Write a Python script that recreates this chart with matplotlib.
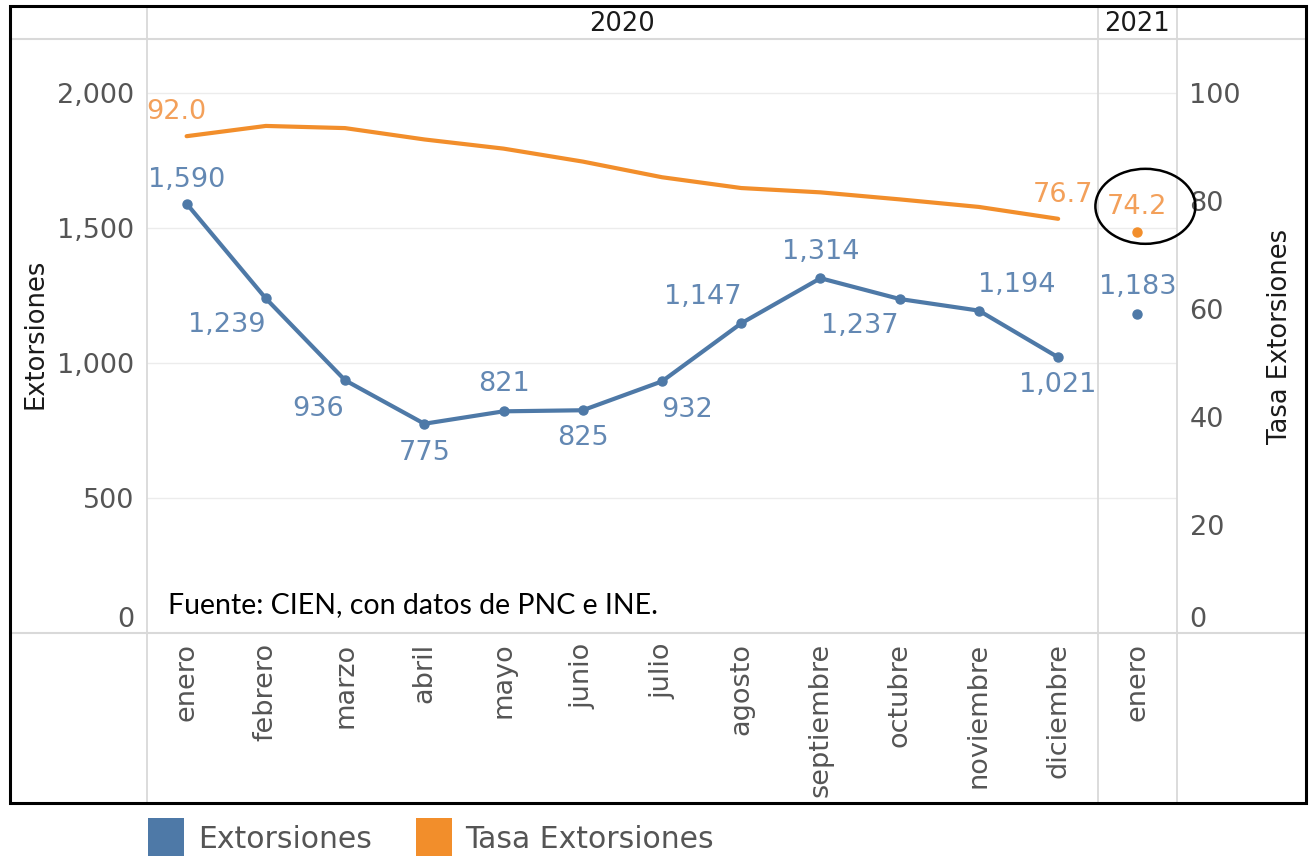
import matplotlib
matplotlib.use('Agg')
import matplotlib.pyplot as plt
from matplotlib.patches import Rectangle, Ellipse
from matplotlib.lines import Line2D
import matplotlib.transforms as mtransforms

# ---------------- data ----------------
years = ['2020', '2021']
months_2020 = ['enero', 'febrero', 'marzo', 'abril', 'mayo', 'junio', 'julio',
               'agosto', 'septiembre', 'octubre', 'noviembre', 'diciembre']
months_2021 = ['enero']
extorsiones_2020 = [1590, 1239, 936, 775, 821, 825, 932, 1147, 1314, 1237, 1194, 1021]
extorsiones_2021 = [1183]
tasa_2020 = [92.0, 93.9, 93.5, 91.4, 89.7, 87.3, 84.4, 82.4, 81.6, 80.3, 78.9, 76.7]
tasa_2021 = [74.2]
left_ticks = [0, 500, 1000, 1500, 2000]
right_ticks = [0, 20, 40, 60, 80, 100]
series_names = ['Extorsiones', 'Tasa Extorsiones']
source_text = 'Fuente: CIEN, con datos de PNC e INE.'

# ---------------- style ----------------
W, H, DPI = 1309, 856, 100
BLUE = '#4e79a7'
ORANGE = '#f28e2b'
BLUE_TXT = '#6388b3'
ORANGE_TXT = '#f3a05a'
TICK_C = '#555555'
LINE_C = '#d9d9d9'
FONT = 'DejaVu Sans'
plt.rcParams['font.family'] = [FONT]

fig = plt.figure(figsize=(W / DPI, H / DPI), dpi=DPI)
fig.patch.set_facecolor('white')


def fx(px):
    return px / W


def fy(py):
    return 1 - py / H


# plot pane in pixel coords
L, R, T, B = 147, 1177, 39, 633
ax = fig.add_axes([fx(L), fy(B), fx(R - L), (B - T) / H])
ax.set_facecolor('white')
ax2 = ax.twinx()

n20 = len(months_2020)
x20 = list(range(n20))
x21 = [n20 + i for i in range(len(months_2021))]
allx = x20 + x21

ax.set_xlim(-0.5, len(allx) - 0.5)
ax.set_ylim(0, 2200)
ax2.set_ylim(0, 110)

for sp in list(ax.spines.values()) + list(ax2.spines.values()):
    sp.set_visible(False)

# gridlines
for t in left_ticks[1:]:
    ax.axhline(t, color='#ececec', lw=1.0, zorder=0)

# lines
ax.plot(x20, extorsiones_2020, color=BLUE, lw=3.0, marker='o', ms=6.5,
        solid_capstyle='round', zorder=3)
ax.plot(x21, extorsiones_2021, color=BLUE, lw=0, marker='o', ms=6.5, zorder=3)
ax2.plot(x20, tasa_2020, color=ORANGE, lw=3.0, solid_capstyle='round', zorder=3)
ax2.plot(x21, tasa_2021, color=ORANGE, lw=0, marker='o', ms=6.5, zorder=3)

# blue labels (offsets in pixels, y positive = down in image)
blue_offsets = [(0, -24), (-39, 27), (-27, 29), (0, 29), (0, -27), (0, 28),
                (25, 29), (-38, -26), (0, -26), (-40, 27), (38, -26), (0, 28)]
for x, v, (dx, dy) in zip(x20, extorsiones_2020, blue_offsets):
    ax.annotate(f'{v:,}', (x, v), xytext=(dx, -dy), textcoords='offset pixels',
                ha='center', va='center', fontsize=19.5, color=BLUE_TXT, zorder=4)
for x, v in zip(x21, extorsiones_2021):
    ax.annotate(f'{v:,}', (x, v), xytext=(0, 27), textcoords='offset pixels',
                ha='center', va='center', fontsize=19.5, color=BLUE_TXT, zorder=4)

# orange labels
ax2.annotate(f'{tasa_2020[0]:.1f}', (x20[0], tasa_2020[0]), xytext=(-10, 24),
             textcoords='offset pixels', ha='center', va='center', fontsize=19.5,
             color=ORANGE_TXT)
ax2.annotate(f'{tasa_2020[-1]:.1f}', (x20[-1], tasa_2020[-1]), xytext=(5, 24),
             textcoords='offset pixels', ha='center', va='center', fontsize=19.5,
             color=ORANGE_TXT)
ax2.annotate(f'{tasa_2021[0]:.1f}', (x21[0], tasa_2021[0]), xytext=(0, 25),
             textcoords='offset pixels', ha='center', va='center', fontsize=19.5,
             color=ORANGE_TXT)

# ellipse highlight around 2021 rate label
cx, cy = ax2.transData.transform((x21[0], tasa_2021[0]))
ell = Ellipse((cx + 8, cy + 26), 100, 75, transform=mtransforms.IdentityTransform(),
              fill=False, ec='black', lw=1.8, zorder=6)
fig.patches.append(ell)
ell.set_figure(fig)

# ticks
ax.set_yticks(left_ticks)
ax.set_yticklabels([f'{t:,}' for t in left_ticks])
ax.tick_params(axis='y', length=0, pad=9, labelsize=19.5, labelcolor=TICK_C)
ax2.set_yticks(right_ticks)
ax2.set_yticklabels([str(t) for t in right_ticks])
ax2.tick_params(axis='y', length=0, pad=9, labelsize=19.5, labelcolor=TICK_C)
for lab in (ax.get_yticklabels()[0], ax2.get_yticklabels()[0]):
    lab.set_verticalalignment('bottom')

ax.set_xticks(allx)
ax.set_xticklabels(months_2020 + months_2021, rotation=90, ha='center', va='top')
ax.tick_params(axis='x', length=0, pad=7, labelsize=19.5, labelcolor=TICK_C)

# structural lines (Tableau-like panes)
blend = mtransforms.blended_transform_factory(ax.transData, fig.transFigure)
for xv in [-0.5, n20 - 0.5, len(allx) - 0.5]:
    fig.add_artist(Line2D([xv, xv], [fy(6), fy(803)], transform=blend,
                          color=LINE_C, lw=1.3, zorder=1))
for py in [T, B]:
    fig.add_artist(Line2D([fx(10), fx(1306)], [fy(py), fy(py)],
                          transform=fig.transFigure, color=LINE_C, lw=1.5, zorder=1))

# year headers
fig.text(ax.transData.transform(((n20 - 1) / 2, 0))[0] / W, fy(24), years[0],
         ha='center', va='center', fontsize=18.5, color='#1a1a1a')
fig.text(ax.transData.transform((x21[0], 0))[0] / W, fy(24), years[1],
         ha='center', va='center', fontsize=18.5, color='#1a1a1a')

# axis titles
fig.text(fx(36), fy(334), series_names[0], rotation=90, ha='center', va='center',
         fontsize=18.5, color='#1a1a1a')
fig.text(fx(1280), fy(336), series_names[1], rotation=90, ha='center', va='center',
         fontsize=18.5, color='#1a1a1a')

# source
fig.text(fx(168), fy(605), source_text, ha='left', va='center', fontsize=20.5,
         color='black', family=['Liberation Sans Narrow', 'Lato', 'DejaVu Sans'])

# black border
fig.add_artist(Rectangle((fx(10), fy(803)), fx(1296), (803 - 6) / H,
                         transform=fig.transFigure, fill=False, ec='black',
                         lw=2.2, zorder=5))

# legend
for (x0, col, name, tx) in [(148, BLUE, series_names[0], 198),
                            (416, ORANGE, series_names[1], 465)]:
    fig.add_artist(Rectangle((fx(x0), fy(860)), fx(36), 42 / H,
                             transform=fig.transFigure, fc=col, ec='none'))
    fig.text(fx(tx), fy(840), name, ha='left', va='center', fontsize=21.5,
             color=TICK_C)

fig.savefig('out.png', dpi=DPI, facecolor='white')
